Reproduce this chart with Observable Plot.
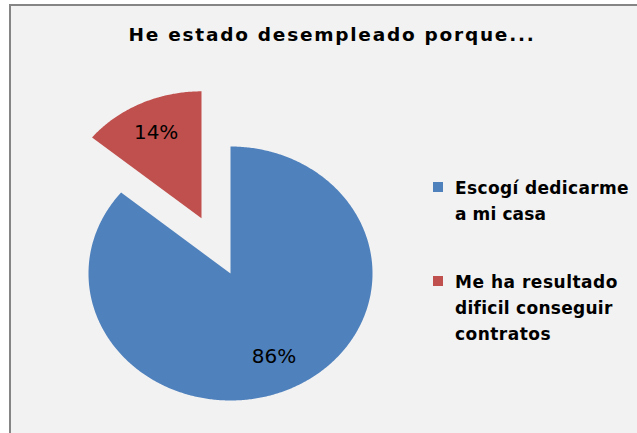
<!DOCTYPE html>
<html><head><meta charset="utf-8">
<script src="https://cdn.jsdelivr.net/npm/d3@7"></script>
<script src="https://cdn.jsdelivr.net/npm/@observablehq/plot@0.6"></script>
<style>
html,body{margin:0;padding:0;background:#fff;width:637px;height:433px;overflow:hidden;}
#frame{position:absolute;left:9px;top:4px;width:628px;height:429px;background:#f2f2f2;border-top:2px solid #858585;border-left:2px solid #858585;box-sizing:border-box;}
#chart{position:absolute;left:0;top:0;}
.t{position:absolute;white-space:nowrap;font-family:"DejaVu Sans",sans-serif;font-weight:bold;color:#000;line-height:1;}
.sw{position:absolute;width:10px;height:10px;}
</style></head>
<body>
<div id="frame"></div>
<div id="chart"></div>
<div id="overlay"></div>
<script>
// ---- data ----
const title = "He estado desempleado porque...";
const categories = ["Escogí dedicarme a mi casa", "Me ha resultado dificil conseguir contratos"];
const values = [86, 14];
const valueLabels = ["86%", "14%"];
const legendLines = [["Escogí dedicarme", "a mi casa"], ["Me ha resultado", "dificil conseguir", "contratos"]];
const colors = ["#4f81bd", "#c0504d"];

// ---- layout ----
const W = 637, H = 433;
const cx = 230, cy = 273, rx = 142, ry = 127;
const explode = [0, 0.48];
const labelR = [0.72, 0.75];

const arcs = d3.pie().sort(null).value(d => d)(values);
const slices = [], labelPts = [];
arcs.forEach((p, i) => {
  const mid = (p.startAngle + p.endAngle) / 2;
  const ox = Math.sin(mid) * explode[i], oy = -Math.cos(mid) * explode[i];
  const cat = categories[i];
  slices.push({cat, x: ox, y: oy});
  const n = Math.ceil((p.endAngle - p.startAngle) / 0.01);
  for (let k = 0; k <= n; k++) {
    const a = p.startAngle + (p.endAngle - p.startAngle) * k / n;
    slices.push({cat, x: ox + Math.sin(a), y: oy - Math.cos(a)});
  }
  labelPts.push({cat, label: valueLabels[i], x: ox + Math.sin(mid) * labelR[i], y: oy - Math.cos(mid) * labelR[i]});
});

const chart = Plot.plot({
  width: W, height: H, margin: 0,
  x: {domain: [-cx / rx, (W - cx) / rx], range: [0, W], axis: null},
  y: {domain: [-cy / ry, (H - cy) / ry], range: [0, H], axis: null},
  color: {domain: categories, range: colors},
  style: {background: "transparent", overflow: "visible"},
  marks: [
    Plot.line(slices, {x: "x", y: "y", z: "cat", fill: "cat", stroke: "none", curve: "linear-closed"}),
    Plot.text(labelPts, {x: "x", y: "y", text: "label", fill: "#000", fontSize: 20, fontFamily: "DejaVu Sans", textAnchor: "middle", lineAnchor: "middle"})
  ]
});
document.getElementById("chart").appendChild(chart);

// ---- title & legend (HTML) ----
const ov = document.getElementById("overlay");
function addText(txt, size, left, baseline, targetW, center) {
  const el = document.createElement("div");
  el.className = "t";
  el.style.fontSize = size + "px";
  el.textContent = txt;
  ov.appendChild(el);
  const w0 = el.getBoundingClientRect().width;
  const ls = (targetW - w0) / txt.length;
  el.style.letterSpacing = ls + "px";
  const x = center ? left - targetW / 2 : left;
  el.style.left = x + "px";
  el.style.top = (baseline - size * 0.846) + "px";
  return el;
}
addText(title, 18.5, 332, 42, 407, true);
const swY = [182, 276];
const baselines = [[194, 220], [288, 314, 340]];
const widths = [[174, 91], [163, 157, 96]];
legendLines.forEach((lines, i) => {
  const s = document.createElement("div");
  s.className = "sw";
  s.style.left = "433px"; s.style.top = swY[i] + "px";
  s.style.background = colors[i];
  ov.appendChild(s);
  lines.forEach((ln, j) => addText(ln, 17, 455, baselines[i][j], widths[i][j], false));
});
</script>
</body></html>
